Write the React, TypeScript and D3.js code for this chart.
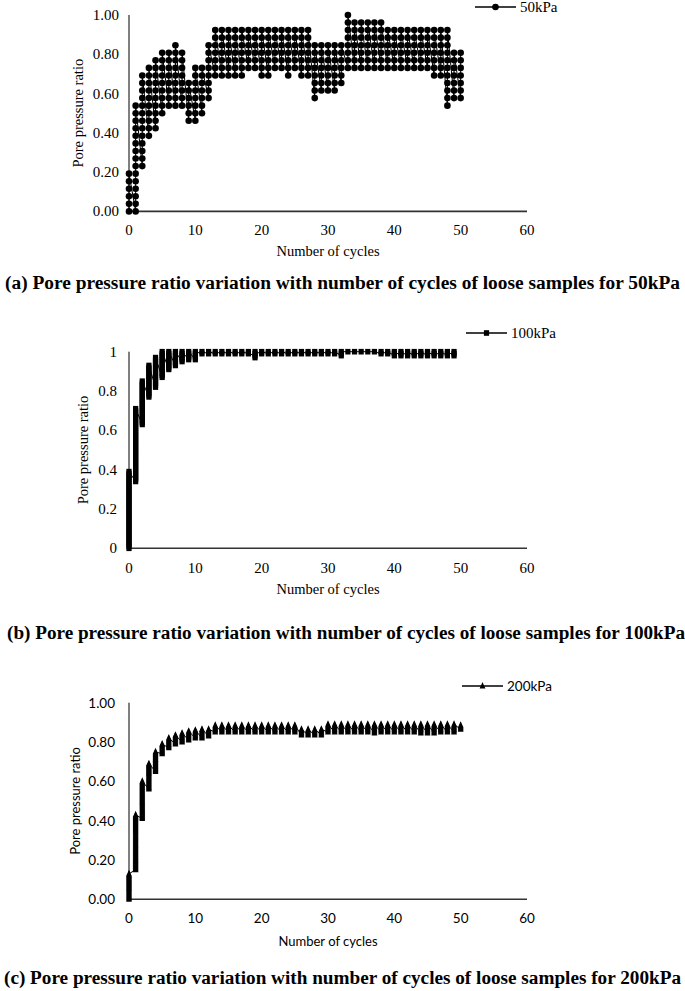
import React from "react";
import * as d3 from "d3";

// ---------- data ----------
const X_TICKS = [0, 10, 20, 30, 40, 50, 60];
const Y_TICKS = [0, 0.2, 0.4, 0.6, 0.8, 1.0];

const CYCLES = [
  0, 1, 2, 3, 4, 5, 6, 7, 8, 9, 10, 11, 12, 13, 14, 15, 16, 17, 18, 19, 20,
  21, 22, 23, 24, 25, 26, 27, 28, 29, 30, 31, 32, 33, 34, 35, 36, 37, 38, 39,
  40, 41, 42, 43, 44, 45, 46, 47, 48, 49, 50,
];

// 50 kPa: per-cycle min / max pore pressure ratio (readings quantised at 1/26)
const A50_STEP = 1 / 26;
const A50_MIN = [
  0, 0, 0.23, 0.38, 0.42, 0.5, 0.54, 0.54, 0.54, 0.46, 0.46, 0.5, 0.58, 0.69,
  0.69, 0.69, 0.69, 0.69, 0.73, 0.73, 0.69, 0.69, 0.73, 0.73, 0.69, 0.73, 0.69,
  0.69, 0.58, 0.62, 0.62, 0.62, 0.65, 0.73, 0.73, 0.73, 0.73, 0.73, 0.73, 0.73,
  0.73, 0.73, 0.73, 0.73, 0.73, 0.73, 0.69, 0.69, 0.54, 0.58, 0.58,
];
const A50_MAX = [
  0.19, 0.54, 0.69, 0.73, 0.77, 0.81, 0.81, 0.85, 0.81, 0.65, 0.73, 0.73, 0.85,
  0.92, 0.92, 0.92, 0.92, 0.92, 0.92, 0.92, 0.92, 0.92, 0.92, 0.92, 0.92, 0.92,
  0.92, 0.92, 0.85, 0.85, 0.85, 0.85, 0.85, 1.0, 0.96, 0.96, 0.96, 0.96, 0.96,
  0.92, 0.92, 0.92, 0.92, 0.92, 0.92, 0.92, 0.92, 0.92, 0.92, 0.81, 0.81,
];

// 100 kPa
const B100_STEP = 0.01;
const B100_CYCLES = CYCLES.slice(0, 50);
const B100_MIN = [
  0, 0.34, 0.63, 0.77, 0.82, 0.87, 0.91, 0.93, 0.95, 0.96, 0.96, 0.99, 0.99,
  0.99, 0.99, 0.99, 0.99, 0.99, 0.99, 0.97, 0.985, 0.985, 0.985, 0.99, 0.99,
  0.99, 0.99, 0.99, 0.99, 0.99, 0.99, 0.99, 0.975, 0.995, 0.995, 0.995, 0.995,
  0.995, 0.985, 0.985, 0.98, 0.98, 0.98, 0.98, 0.98, 0.98, 0.98, 0.98, 0.98,
  0.98,
];
const B100_MAX = [
  0.39, 0.71, 0.85, 0.93, 0.97, 1, 1, 1, 1, 1, 1, 1, 1, 1, 1, 1, 1, 1, 1, 1,
  1, 1, 1, 1, 1, 1, 1, 1, 1, 1, 1, 1, 1, 1, 1, 1, 1, 1, 1, 1, 1, 1, 1, 1, 1,
  1, 1, 1, 1, 1,
];

// 200 kPa
const C200_STEP = 0.005;
const C200_MIN = [
  0, 0.15, 0.41, 0.56, 0.65, 0.74, 0.77, 0.79, 0.8, 0.81, 0.82, 0.82, 0.83,
  0.85, 0.852, 0.852, 0.852, 0.852, 0.852, 0.852, 0.852, 0.852, 0.852, 0.852,
  0.852, 0.852, 0.835, 0.835, 0.835, 0.835, 0.852, 0.852, 0.852, 0.852, 0.852,
  0.852, 0.852, 0.845, 0.852, 0.852, 0.852, 0.852, 0.852, 0.852, 0.845, 0.845,
  0.845, 0.852, 0.852, 0.852, 0.865,
];
const C200_MAX = [
  0.13, 0.43, 0.6, 0.69, 0.75, 0.79, 0.82, 0.833, 0.846, 0.853, 0.858, 0.863,
  0.866, 0.883, 0.885, 0.885, 0.885, 0.885, 0.885, 0.885, 0.885, 0.885, 0.885,
  0.885, 0.885, 0.885, 0.865, 0.865, 0.865, 0.865, 0.892, 0.892, 0.892, 0.892,
  0.892, 0.892, 0.892, 0.892, 0.892, 0.892, 0.892, 0.892, 0.892, 0.892, 0.892,
  0.892, 0.892, 0.892, 0.892, 0.892, 0.885,
];

const SERIF = "'Liberation Serif', 'Times New Roman', Times, serif";
const SANS = "Lato, 'Noto Sans', sans-serif";

type Marker = "circle" | "square" | "triangle";

interface PanelProps {
  cycles: number[];
  mins: number[];
  maxs: number[];
  step: number;
  marker: Marker;
  yTop: number;
  yBottom: number;
  font: string;
  fontSize: number;
  tickFmt: (v: number) => string;
  tickLabelX: number;
  xTickY: number;
  xTitleY: number;
  yTitleX: number;
  legend: string;
  legendY: number;
  legendX1: number;
  legendX2: number;
  caption: string;
  captionY: number;
  captionX1: number;
  captionX2: number;
}

const xScale = d3.scaleLinear().domain([0, 60]).range([129, 527]);

function MarkerShape({ type, x, y }: { type: Marker; x: number; y: number }) {
  if (type === "circle") return <circle cx={x} cy={y} r={3.3} fill="#000" />;
  if (type === "square")
    return <rect x={x - 2.6} y={y - 2.8} width={5.2} height={5.6} fill="#000" />;
  return (
    <path
      d={`M${x},${y - 4}L${x + 2.9},${y + 2.4}L${x - 2.9},${y + 2.4}Z`}
      fill="#000"
    />
  );
}

function Panel(p: PanelProps) {
  const yScale = d3.scaleLinear().domain([0, 1]).range([p.yBottom, p.yTop]);
  const pts: [number, number][] = [];
  p.cycles.forEach((c, i) => {
    const k0 = Math.round(p.mins[i] / p.step);
    const k1 = Math.round(p.maxs[i] / p.step);
    d3.range(k0, k1 + 1).forEach((k) => pts.push([c, k * p.step]));
  });
  const line = d3
    .line<[number, number]>()
    .x((d) => xScale(d[0]))
    .y((d) => yScale(d[1]));
  const yMid = (p.yTop + p.yBottom) / 2;
  return (
    <g fontFamily={p.font} fill="#000">
      {/* axes */}
      <line x1={129} x2={129} y1={p.yTop} y2={p.yBottom} stroke="#000" strokeWidth={1} />
      <line x1={129} x2={527} y1={p.yBottom} y2={p.yBottom} stroke="#333" strokeWidth={1.6} />
      {Y_TICKS.map((t) => (
        <text
          key={"y" + t}
          x={p.tickLabelX}
          y={yScale(t)}
          textAnchor="end"
          dominantBaseline="central"
          fontSize={p.fontSize}
        >
          {p.tickFmt(t)}
        </text>
      ))}
      {X_TICKS.map((t) => (
        <text
          key={"x" + t}
          x={xScale(t)}
          y={p.xTickY}
          textAnchor="middle"
          dominantBaseline="central"
          fontSize={p.fontSize}
        >
          {t}
        </text>
      ))}
      <text
        x={328}
        y={p.xTitleY}
        textAnchor="middle"
        dominantBaseline="central"
        fontSize={p.fontSize - 0.5}
      >
        Number of cycles
      </text>
      <text
        transform={`translate(${p.yTitleX},${yMid}) rotate(-90)`}
        textAnchor="middle"
        dominantBaseline="central"
        fontSize={p.fontSize - 0.5}
      >
        Pore pressure ratio
      </text>
      {/* series */}
      <path d={line(pts) || ""} fill="none" stroke="#000" strokeWidth={1} />
      {pts.map((d, i) => (
        <MarkerShape key={i} type={p.marker} x={xScale(d[0])} y={yScale(d[1])} />
      ))}
      {/* legend */}
      <line
        x1={p.legendX1}
        x2={p.legendX2}
        y1={p.legendY}
        y2={p.legendY}
        stroke="#000"
        strokeWidth={1.5}
      />
      <MarkerShape type={p.marker} x={(p.legendX1 + p.legendX2) / 2} y={p.legendY} />
      <text
        x={p.legendX2 + 4}
        y={p.legendY}
        dominantBaseline="central"
        fontSize={p.fontSize}
      >
        {p.legend}
      </text>
      {/* caption */}
      <text
        x={p.captionX1}
        y={p.captionY}
        dominantBaseline="central"
        fontFamily={SERIF}
        fontWeight="bold"
        fontSize={18.5}
        textLength={p.captionX2 - p.captionX1}
        lengthAdjust="spacingAndGlyphs"
      >
        {p.caption}
      </text>
    </g>
  );
}

export default function App() {
  return (
    <svg
      width={685}
      height={991}
      style={{ position: "absolute", left: 0, top: 0, background: "#fff" }}
    >
      <rect width={685} height={991} fill="#fff" />
      <Panel
        cycles={CYCLES}
        mins={A50_MIN}
        maxs={A50_MAX}
        step={A50_STEP}
        marker="circle"
        yTop={15}
        yBottom={211.4}
        font={SERIF}
        fontSize={15}
        tickFmt={d3.format(".2f")}
        tickLabelX={119}
        xTickY={230}
        xTitleY={251}
        yTitleX={78}
        legend="50kPa"
        legendY={7}
        legendX1={475}
        legendX2={516}
        caption="(a) Pore pressure ratio variation with number of cycles of loose samples for 50kPa"
        captionY={283}
        captionX1={5}
        captionX2={680}
      />
      <Panel
        cycles={B100_CYCLES}
        mins={B100_MIN}
        maxs={B100_MAX}
        step={B100_STEP}
        marker="square"
        yTop={351.7}
        yBottom={548.3}
        font={SERIF}
        fontSize={15}
        tickFmt={(v) => String(v)}
        tickLabelX={117}
        xTickY={568}
        xTitleY={589}
        yTitleX={83}
        legend="100kPa"
        legendY={333}
        legendX1={466}
        legendX2={507}
        caption="(b) Pore pressure ratio variation with number of cycles of loose samples for 100kPa"
        captionY={633}
        captionX1={7}
        captionX2={685}
      />
      <Panel
        cycles={CYCLES}
        mins={C200_MIN}
        maxs={C200_MAX}
        step={C200_STEP}
        marker="triangle"
        yTop={702.7}
        yBottom={899.3}
        font={SANS}
        fontSize={13.5}
        tickFmt={d3.format(".2f")}
        tickLabelX={115}
        xTickY={918}
        xTitleY={941}
        yTitleX={75}
        legend="200kPa"
        legendY={686}
        legendX1={462}
        legendX2={503}
        caption="(c) Pore pressure ratio variation with number of cycles of loose samples for 200kPa"
        captionY={978}
        captionX1={4}
        captionX2={681}
      />
    </svg>
  );
}
